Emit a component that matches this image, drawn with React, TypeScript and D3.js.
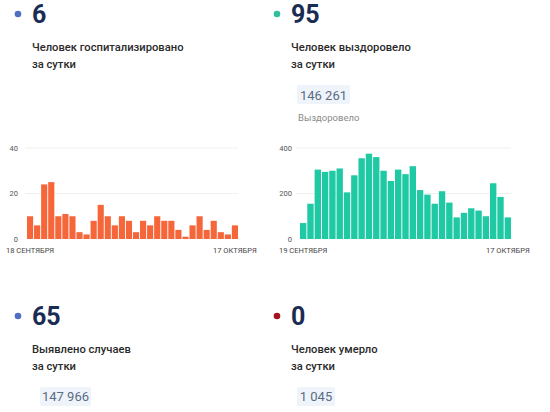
import React from 'react';
import * as d3 from 'd3';

// hospitalised per day, 18 Sep .. 17 Oct
const hospDays = d3.range(30).map((i) => `h${i}`);
const hospValues = [10, 6, 24, 25, 10, 11, 10, 3, 2, 8, 15, 10, 6, 10, 8, 3, 8, 6, 10, 8, 8, 4, 1, 6, 10, 4, 8, 3, 2, 6];
const hospTicks = [0, 20, 40];
const hospDateLabels = ['18 СЕНТЯБРЯ', '17 ОКТЯБРЯ'];

// recovered per day, 19 Sep .. 17 Oct
const recDays = d3.range(29).map((i) => `r${i}`);
const recValues = [70, 155, 305, 295, 300, 310, 205, 280, 355, 375, 360, 300, 255, 305, 285, 320, 215, 195, 155, 210, 160, 95, 115, 135, 125, 100, 245, 185, 95];
const recTicks = [0, 200, 400];
const recDateLabels = ['19 СЕНТЯБРЯ', '17 ОКТЯБРЯ'];

const statNumbers = ['6', '95', '65', '0'];
const statCaptions = [
  ['Человек госпитализировано', 'за сутки'],
  ['Человек выздоровело', 'за сутки'],
  ['Выявлено случаев', 'за сутки'],
  ['Человек умерло', 'за сутки'],
];
const totals = ['', '146 261', '147 966', '1 045'];

const FONT = 'Roboto, "Noto Sans", sans-serif';

interface BarChartProps {
  days: string[];
  values: number[];
  ticks: number[];
  dates: string[];
  x0: number;
  x1: number;
  labelX: number;
  gridX0: number;
  color: string;
}

const BarChart: React.FC<BarChartProps> = ({ days, values, ticks, dates, x0, x1, labelX, gridX0, color }) => {
  const x = d3.scaleBand().domain(days).range([x0, x1]).paddingInner(0.13).paddingOuter(0);
  const y = d3.scaleLinear().domain([0, d3.max(ticks) as number]).range([239, 148]);
  const first = days[0];
  const last = days[days.length - 1];

  return (
    <g>
      {ticks.map((t) => (
        <g key={t}>
          {t > 0 && <line x1={gridX0} x2={x1} y1={y(t)} y2={y(t)} stroke="#f0f0f0" strokeWidth={1} />}
          <text x={labelX} y={y(t)} dy="0.35em" textAnchor="end" fontSize={7.5} fill="#555">
            {t}
          </text>
        </g>
      ))}
      {values.map((v, i) => (
        <rect
          key={days[i]}
          x={x(days[i])}
          width={x.bandwidth()}
          y={y(v)}
          height={y(0) - y(v)}
          fill={color}
        />
      ))}
      <text x={(x(first) as number) + x.bandwidth() / 2} y={250} dy="0.35em" textAnchor="middle" fontSize={7.5} fill="#444">
        {dates[0]}
      </text>
      <text x={(x(last) as number) + x.bandwidth() / 2} y={250} dy="0.35em" textAnchor="middle" fontSize={7.5} fill="#444">
        {dates[1]}
      </text>
    </g>
  );
};

const dotColors = ['#4f6fc4', '#2fbf9c', '#4f6fc4', '#a3141f'];
const cols = [18, 277];
const rows = [0, 302];

const App: React.FC = () => {
  return (
    <svg
      width={550}
      height={412}
      style={{ position: 'absolute', left: 0, top: 0, background: '#fff', fontFamily: FONT }}
    >
      {statNumbers.map((num, i) => {
        const cx = cols[i % 2];
        const oy = rows[Math.floor(i / 2)];
        const tx = cx + 14;
        return (
          <g key={i}>
            <circle cx={cx} cy={oy + 14} r={3.3} fill={dotColors[i]} />
            <text x={tx} y={oy + 23} fontSize={25} fontWeight={700} fill="#1b2c54">
              {num}
            </text>
            <text x={tx} y={oy + 47} dy="0.35em" fontSize={11.2} fontWeight={500} fill="#2a2a2a">
              {statCaptions[i][0]}
            </text>
            <text x={tx} y={oy + 64} dy="0.35em" fontSize={11.2} fontWeight={500} fill="#2a2a2a">
              {statCaptions[i][1]}
            </text>
          </g>
        );
      })}

      {/* totals */}
      <rect x={297} y={85} width={53} height={19} rx={2} fill="#eef4fa" />
      <text x={323.5} y={95} dy="0.35em" textAnchor="middle" fontSize={13} fill="#5b6c84">
        {totals[1]}
      </text>
      <text x={298} y={118} dy="0.35em" fontSize={9.5} fill="#8a8a8a">
        Выздоровело
      </text>

      <rect x={40} y={387} width={51} height={19} rx={2} fill="#eef4fa" />
      <text x={65.5} y={396} dy="0.35em" textAnchor="middle" fontSize={13} fill="#5b6c84">
        {totals[2]}
      </text>

      <rect x={297} y={387} width={38} height={19} rx={2} fill="#eef4fa" />
      <text x={316} y={396} dy="0.35em" textAnchor="middle" fontSize={13} fill="#5b6c84">
        {totals[3]}
      </text>

      <BarChart
        days={hospDays}
        values={hospValues}
        ticks={hospTicks}
        dates={hospDateLabels}
        x0={27}
        x1={238}
        labelX={18}
        gridX0={25}
        color="#f5663a"
      />
      <BarChart
        days={recDays}
        values={recValues}
        ticks={recTicks}
        dates={recDateLabels}
        x0={300}
        x1={511}
        labelX={292}
        gridX0={296}
        color="#1ec9a3"
      />
    </svg>
  );
};

export default App;
